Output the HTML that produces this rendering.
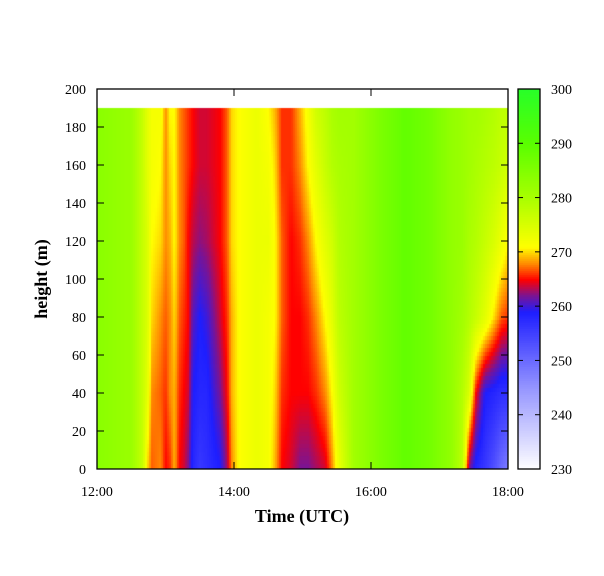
<!DOCTYPE html>
<html><head><meta charset="utf-8"><style>
body{margin:0;background:#fff;width:604px;height:576px;overflow:hidden;font-family:"Liberation Serif",serif;}
</style></head><body>
<svg id="svg" width="604" height="576" xmlns="http://www.w3.org/2000/svg" style="position:absolute;left:0;top:0">
<foreignObject x="97" y="89" width="411" height="380">
<canvas id="hm" width="411" height="380" xmlns="http://www.w3.org/1999/xhtml" style="display:block"></canvas>
</foreignObject>
<foreignObject x="518" y="89" width="22" height="380">
<canvas id="cb" width="22" height="380" xmlns="http://www.w3.org/1999/xhtml" style="display:block"></canvas>
</foreignObject>
<g id="axes"></g>
</svg>
<script>
// time in minutes after 12:00
const times=[0,30,40,44,48,56,60,64,68,72,76,80,84,90,96,102,108,114,118,124,140,150,156,162,170,178,185,192,200,206,212,225,250,270,290,310,320,326,332,340,348,354,360];
const heights=[0,40,80,120,160,190];
// temperature (K) per column, one value per height
const temps=[
[284,284,284,284,284,284],
[282,282,282,282,282,282],
[277,277,277,277,277,277],
[270,274,275,275,274,274],
[267,268,270,271,272,272],
[268,267,268,270,271,272],
[265,266,267,268,268,268],
[266,268,268,269,270,271],
[269,269,270,271,271,271],
[265,266,267,268,268,268],
[264,265,266,267,267,267],
[262,264,265,265,266,266],
[258,259,261,263.5,265,265],
[256,258,259,262.5,264,264],
[257,258,260,263,264,264],
[258,260,262,264,264.5,264.5],
[259,262,264,265,265,265],
[263,265,266,267,267,267],
[268,269,269,270,270,270],
[271,271,271,271,271,271],
[273,273,273,273,273,273],
[272,272,272,273,272,271],
[269,270,271,271,270,269],
[265,266,267,267,266,266],
[264,265,265,265,266,266],
[262,265,265,266,268,269],
[262,265,266,268,271,272],
[263,266,268,271,274,276],
[264,268,271,274,277,278],
[268,271,274,276,279,280],
[273,276,278,279,280,281],
[281,281,281,281,281,281],
[286,286,286,286,286,286],
[289,289,289,289,289,289],
[287,287,287,287,287,287],
[283,283,283,283,283,283],
[278,279,281,282,282,282],
[262,275,279,280,281,281],
[258,265,277,279,280,281],
[256,259,274,277,279,280],
[253,258,270,275,278,279],
[250,257,267,273,277,278],
[248,257,266,271,276,278]];
const yTicks=[0,20,40,60,80,100,120,140,160,180,200];
const xTicks=[0,120,240,360];
const xTickLabels=["12:00","14:00","16:00","18:00"];
const cbTicks=[230,240,250,260,270,280,290,300];

const PX0=97,PX1=508,PY0=469,PY1=89;
const xS=m=>PX0+(m/360)*(PX1-PX0);
const yS=h=>PY0-(h/200)*(PY0-PY1);
const cS=v=>469-(v-230)/70*380;
const stops=[[230,255,255,255],[245,150,150,255],[259,30,30,255],[262,120,20,150],[265,255,0,0],[268,255,140,0],[271,255,255,0],[280,170,255,0],[290,90,255,0],[300,40,255,40]];
function col(v){
  if(v<=stops[0][0])return stops[0].slice(1);
  for(let i=1;i<stops.length;i++){if(v<=stops[i][0]){const a=stops[i-1],b=stops[i],t=(v-a[0])/(b[0]-a[0]);return [0,1,2].map(k=>Math.round(a[k+1]+(b[k+1]-a[k+1])*t));}}
  return stops[stops.length-1].slice(1);
}
function interp(arr,x){let i=0;while(i<arr.length-2&&x>arr[i+1])i++;const t=Math.max(0,Math.min(1,(x-arr[i])/(arr[i+1]-arr[i])));return [i,t];}
function val(m,h){
  const [i,ti]=interp(times,m),[j,tj]=interp(heights,h);
  const a=temps[i][j]*(1-tj)+temps[i][j+1]*tj,b=temps[i+1][j]*(1-tj)+temps[i+1][j+1]*tj;
  return a*(1-ti)+b*ti;
}
const c=document.getElementById('hm').getContext('2d');
const W=411,H=380;
const hTop=yS(heights[heights.length-1])-PY1;
for(let px=0;px<W;px+=2){
  for(let py=Math.floor(hTop);py<H;py+=4){
    const m=(px+1)/W*360,h=(H-py-2)/H*200;
    const [r,g,b]=col(val(m,Math.max(0,h)));
    c.fillStyle=`rgb(${r},${g},${b})`;c.fillRect(px,py,2,4);
  }
}
const cb=document.getElementById('cb').getContext('2d');
for(let py=0;py<380;py+=2){const [r,g,b]=col(300-py/380*70);cb.fillStyle=`rgb(${r},${g},${b})`;cb.fillRect(0,py,22,2);}
const NS="http://www.w3.org/2000/svg",ax=document.getElementById('axes');
function mk(t,a,txt){const e=document.createElementNS(NS,t);for(const k in a)e.setAttribute(k,a[k]);if(txt!==undefined)e.textContent=txt;ax.appendChild(e);return e;}
let e;
e=mk('rect',{x:97,y:89,width:411,height:380,fill:'none',stroke:'#000','stroke-width':1.3});


e=mk('rect',{x:518,y:89,width:22,height:380,fill:'none',stroke:'#000','stroke-width':1.3});


yTicks.forEach(v=>{const y=yS(v);
 e=mk('line',{x1:97,x2:104,y1:y,y2:y,stroke:'#000'});
 
 
 e=mk('line',{x1:501,x2:508,y1:y,y2:y,stroke:'#000'});
 
 
 e=mk('text',{x:86,y:y+5,'text-anchor':'end','font-size':14},v);
 
 
});
xTicks.forEach((v,i)=>{const x=xS(v);
 e=mk('line',{x1:x,x2:x,y1:469,y2:462,stroke:'#000'});
 
 
 e=mk('line',{x1:x,x2:x,y1:89,y2:96,stroke:'#000'});
 
 
 e=mk('text',{x:x,y:496,'text-anchor':'middle','font-size':14},xTickLabels[i]);
 
 
});
cbTicks.forEach(v=>{const y=cS(v);
 e=mk('line',{x1:518,x2:523,y1:y,y2:y,stroke:'#000'});
 
 
 e=mk('line',{x1:535,x2:540,y1:y,y2:y,stroke:'#000'});
 
 
 e=mk('text',{x:551,y:y+5,'font-size':14},v);
 
 
});
e=mk('text',{x:302,y:522,'text-anchor':'middle','font-size':18,'font-weight':'bold'},'Time (UTC)');


e=mk('text',{x:0,y:0,'text-anchor':'middle','font-size':18,'font-weight':'bold',transform:'translate(47,279) rotate(-90)'},'height (m)');


</script>
</body></html>
